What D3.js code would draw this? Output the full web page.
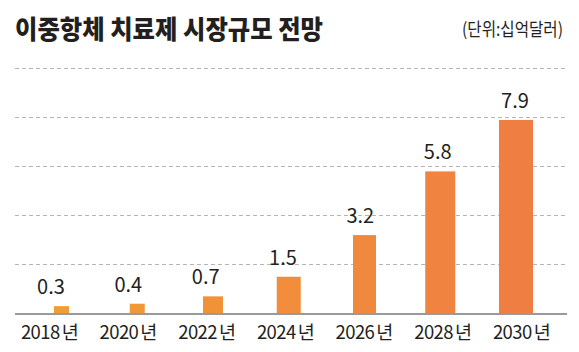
<!DOCTYPE html>
<html><head><meta charset="utf-8">
<script src="https://cdn.jsdelivr.net/npm/d3@7"></script>
<style>body{margin:0;background:#fff}svg{display:block}text{font-family:"Noto Sans CJK KR","Noto Sans",sans-serif}</style>
</head><body>
<script>
const categories = ["2018", "2020", "2022", "2024", "2026", "2028", "2030"];
const values = [0.3, 0.4, 0.7, 1.5, 3.2, 5.8, 7.9];
const yTicks = [2, 4, 6, 8, 10];
const title = "이중항체 치료제 시장규모 전망";
const unit = "(단위:십억달러)";
const yearSuffix = "년";

// style
const barWidths = [15, 15, 20, 24, 23, 30, 34];
const W = 579, H = 352;
const svg = d3.select("body").append("svg").attr("width", W).attr("height", H);

const x = d3.scalePoint().domain(categories).range([61.5, 516]);
const xValueLabel = d3.scalePoint().domain(categories).range([51, 515]);
const xYearLabel = d3.scalePoint().domain(categories).range([49.5, 521.5]);
const y = d3.scaleLinear().domain([0, 10]).range([313.5, 68.5]);
const color = d3.scaleLinear().domain([0, categories.length - 1]).range(["#f39c33", "#ef7e42"]);

svg.append("text").attr("x", 15).attr("y", 38.5).attr("font-size", 26).attr("font-weight", 900)
  .attr("fill", "#231f20").attr("textLength", 308).attr("lengthAdjust", "spacingAndGlyphs").text(title);
svg.append("text").attr("x", 563).attr("y", 35.5).attr("text-anchor", "end").attr("font-size", 18)
  .attr("fill", "#231f20").attr("textLength", 101).attr("lengthAdjust", "spacingAndGlyphs").text(unit);

svg.append("g").selectAll("line").data(yTicks).join("line")
  .attr("x1", 15).attr("x2", 567).attr("y1", d => y(d)).attr("y2", d => y(d))
  .attr("stroke", "#b5b5b5").attr("stroke-width", 1).attr("stroke-dasharray", "4,3");

svg.append("g").selectAll("rect").data(values).join("rect")
  .attr("x", (d, i) => x(categories[i]) - barWidths[i] / 2)
  .attr("width", (d, i) => barWidths[i])
  .attr("y", d => y(d)).attr("height", d => y(0) - y(d))
  .attr("fill", (d, i) => color(i));

svg.append("line").attr("x1", 15).attr("x2", 567).attr("y1", y(0) + 0.5).attr("y2", y(0) + 0.5)
  .attr("stroke", "#9a9a9a").attr("stroke-width", 2);

svg.append("g").selectAll("text").data(values).join("text")
  .attr("x", (d, i) => xValueLabel(categories[i])).attr("y", d => y(d) - 12)
  .attr("text-anchor", "middle").attr("font-size", 20).attr("fill", "#231f20")
  .text(d => d.toFixed(1));

const yl = svg.append("g").selectAll("text").data(categories).join("text")
  .attr("x", d => xYearLabel(d)).attr("y", 338.5)
  .attr("text-anchor", "middle").attr("font-size", 18.5).attr("fill", "#231f20")
  .attr("letter-spacing", -0.6);
yl.append("tspan").text(d => d);
yl.append("tspan").attr("dx", 2).text(yearSuffix);
</script>
</body></html>
